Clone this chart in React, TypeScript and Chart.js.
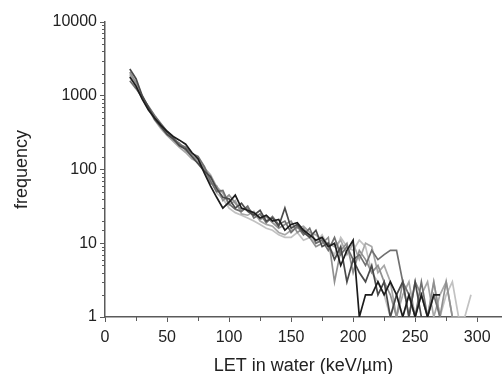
import React, { useEffect, useRef } from "react";
import { Chart, registerables } from "chart.js";

Chart.register(...registerables);

// LET bins (keV/µm)
const LET = [
  20, 25, 30, 35, 40, 45, 50, 55, 60, 65, 70, 75, 80, 85, 90, 95, 100, 105, 110, 115,
  120, 125, 130, 135, 140, 145, 150, 155, 160, 165, 170, 175, 180, 185, 190, 195, 200,
  205, 210, 215, 220, 225, 230, 235, 240, 245, 250, 255, 260, 265, 270, 275, 280, 285,
  290, 295,
];

const seriesA = [
  1800, 1350, 900, 640, 500, 400, 330, 280, 250, 220, 170, 140, 90, 60, 42, 30, 36, 45, 30, 28,
  26, 22, 24, 20, 21, 15, 18, 19, 15, 13, 11, 12, 9, 10, 5, 8, 11,
  1, 2, 2, 3, 2, 3, 2, 1, 2, 1, 2, 1, 2, 2,
];
const seriesB = [
  2300, 1700, 1000, 700, 480, 380, 300, 260, 210, 190, 150, 120, 95, 80, 55, 42, 40, 30, 35, 27,
  24, 28, 20, 22, 17, 30, 16, 18, 14, 12, 15, 9, 10, 6, 9, 3, 6,
  4, 3, 5, 2, 3, 1, 2, 3, 1, 3, 1, 1,
];
const seriesC = [
  1600, 1250, 950, 720, 540, 420, 330, 270, 220, 200, 165, 150, 110, 70, 50, 52, 34, 29, 27, 32,
  22, 25, 19, 23, 18, 20, 14, 17, 13, 16, 10, 11, 8, 12, 7, 9, 6,
  7, 5, 8, 6, 7, 8, 8, 3, 2, 1, 3, 1, 2, 1,
];
const seriesD = [
  2100, 1500, 980, 680, 510, 390, 310, 250, 230, 180, 155, 135, 100, 65, 60, 38, 45, 35, 28, 30,
  25, 21, 23, 19, 16, 18, 20, 14, 16, 12, 9, 10, 12, 3, 8, 10, 4,
  8, 6, 4, 5, 3, 2, 1, 3, 1, 3, 2, 1, 3, 1, 3, 1,
];
const seriesE = [
  1900, 1400, 920, 660, 470, 360, 290, 240, 200, 170, 140, 125, 105, 85, 58, 48, 33, 38, 25, 24,
  27, 20, 18, 17, 14, 13, 15, 16, 17, 14, 13, 11, 10, 9, 11, 7, 10,
  6, 10, 9, 4, 5, 3, 1, 2, 3, 1, 2, 3, 1, 2, 3, 1, 1,
];
const seriesF = [
  2000, 1450, 1000, 700, 530, 410, 320, 265, 215, 185, 150, 128, 110, 75, 48, 40, 30, 26, 24, 22,
  20, 18, 16, 15, 13, 12, 12, 14, 11, 12, 10, 13, 9, 7, 12, 9, 8,
  11, 9, 4, 3, 2, 1, 2, 1, 2, 1, 2, 1, 3, 1, 2, 3, 1, 1, 2,
];

const SERIES_VALUES = [seriesA, seriesB, seriesC, seriesD, seriesE, seriesF];
const SERIES_NAMES = ["run 1", "run 2", "run 3", "run 4", "run 5", "run 6"];
const SERIES_COLORS = ["#1c1c1c", "#4a4a4a", "#707070", "#909090", "#a8a8a8", "#c2c2c2"];

const Y_LABELS = [1, 10, 100, 1000, 10000];
const X_STEP = 50;

const AXIS_COLOR = "#5a5a5a";
const TEXT_COLOR = "#222";
const FONT_FAMILY = "'Liberation Sans', Arial, sans-serif";

const minorTicksPlugin = {
  id: "minorTicks",
  afterDraw(chart: any) {
    const ctx = chart.ctx;
    const xs = chart.scales.x;
    const ys = chart.scales.y;
    ctx.save();
    ctx.strokeStyle = AXIS_COLOR;
    ctx.lineWidth = 1;
    const xt = xs.ticks;
    for (let i = 0; i < xt.length - 1; i++) {
      const v = (xt[i].value + xt[i + 1].value) / 2;
      const px = Math.round(xs.getPixelForValue(v)) + 0.5;
      ctx.beginPath();
      ctx.moveTo(px, xs.top);
      ctx.lineTo(px, xs.top + 4);
      ctx.stroke();
    }
    for (const t of ys.ticks) {
      if (Y_LABELS.includes(t.value)) continue;
      const py = Math.round(ys.getPixelForValue(t.value)) + 0.5;
      ctx.beginPath();
      ctx.moveTo(ys.right, py);
      ctx.lineTo(ys.right - 3, py);
      ctx.stroke();
    }
    ctx.restore();
  },
};

export default function App() {
  const ref = useRef<HTMLCanvasElement | null>(null);

  useEffect(() => {
    if (!ref.current) return;
    const datasets = SERIES_VALUES.map((vals, i) => ({
      label: SERIES_NAMES[i],
      data: vals.map((v, j) => ({ x: LET[j], y: v })),
      borderColor: SERIES_COLORS[i],
      backgroundColor: SERIES_COLORS[i],
      borderWidth: 1.7,
      pointRadius: 0,
      tension: 0,
      fill: false,
    }));

    const chart = new Chart(ref.current, {
      type: "line",
      data: { datasets },
      plugins: [minorTicksPlugin],
      options: {
        animation: false,
        responsive: false,
        maintainAspectRatio: false,
        layout: { padding: { top: 22, right: 0, bottom: 0, left: 0 } },
        plugins: {
          legend: { display: false },
          tooltip: { enabled: false },
        },
        scales: {
          x: {
            type: "linear",
            min: 0,
            max: 320,
            afterFit: (s: any) => {
              s.height = 57;
            },
            border: { display: true, color: AXIS_COLOR, width: 1.5 },
            grid: {
              display: true,
              drawOnChartArea: false,
              drawTicks: true,
              tickLength: 5,
              tickColor: AXIS_COLOR,
            },
            ticks: {
              stepSize: X_STEP,
              includeBounds: false,
              autoSkip: false,
              maxRotation: 0,
              padding: 6,
              color: TEXT_COLOR,
              font: { family: FONT_FAMILY, size: 16 },
              callback: (v: any) => String(v),
            },
            title: {
              display: true,
              text: "LET in water (keV/\u00b5m)",
              color: TEXT_COLOR,
              font: { family: FONT_FAMILY, size: 18, lineHeight: 1 },
              padding: { top: 0, bottom: -1 },
            },
          },
          y: {
            type: "logarithmic",
            min: 1,
            max: 10000,
            afterFit: (s: any) => {
              s.width = 105;
            },
            border: { display: true, color: AXIS_COLOR, width: 1.5 },
            grid: {
              display: true,
              drawOnChartArea: false,
              drawTicks: true,
              tickLength: 5,
              tickColor: (c: any) =>
                c.tick && Y_LABELS.includes(c.tick.value) ? AXIS_COLOR : "rgba(0,0,0,0)",
            },
            ticks: {
              autoSkip: false,
              padding: 3,
              color: TEXT_COLOR,
              font: { family: FONT_FAMILY, size: 16 },
              callback: (v: any) => (Y_LABELS.includes(Number(v)) ? String(v) : ""),
            },
            title: {
              display: true,
              text: "frequency",
              color: TEXT_COLOR,
              font: { family: FONT_FAMILY, size: 18 },
              padding: { top: 11, bottom: 0 },
            },
          },
        },
      },
    } as any);

    return () => chart.destroy();
  }, []);

  return (
    <div style={{ position: "fixed", left: 0, top: 0, width: 502, height: 374, background: "#fff" }}>
      <canvas ref={ref} width={502} height={374} style={{ display: "block" }} />
    </div>
  );
}
